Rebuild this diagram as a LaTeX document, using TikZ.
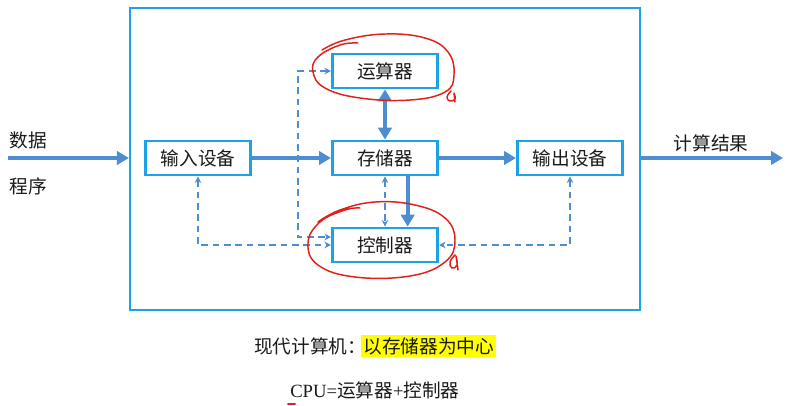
\documentclass[tikz,border=0pt]{standalone}
\usepackage{fontspec}
\setmainfont{Liberation Serif}
\newfontfamily\cjk{Noto Sans CJK SC}
\usetikzlibrary{arrows.meta,calc,positioning}
\definecolor{frameCyan}{HTML}{1BA3E6}
\definecolor{busBlue}{HTML}{4E8DD0}
\definecolor{ink}{HTML}{1A1A1A}
\definecolor{penRed}{HTML}{E0201B}
\definecolor{markYellow}{HTML}{FFFF00}
\newcommand{\FigBody}{\cjk\fontsize{14}{16.8}\selectfont}
\newcommand{\FigLatin}{\fontsize{14}{16.8}\selectfont}
\tikzset{
  unit box/.style={
    draw=frameCyan, line width=2pt, fill=white, text=ink,
    minimum width=79pt, minimum height=25.5pt, inner sep=2pt, font=\FigBody
  },
  bus arrow/.style={
    -{Triangle[length=9pt,width=10pt]},
    line width=3pt, busBlue
  },
  bus both/.style={
    {Triangle[length=9pt,width=10pt]}-{Triangle[length=9pt,width=10pt]},
    line width=3pt, busBlue
  },
  sig arrow/.style={
    {Stealth[length=5pt,width=5pt]}-{Stealth[length=5pt,width=5pt]},
    line width=1.3pt, busBlue, dash pattern=on 5pt off 3.5pt
  },
  pen/.style={penRed, line width=1.1pt, line cap=round, line join=round},
}

\begin{document}
\begin{tikzpicture}[x=0.75pt,y=-0.75pt]
  \useasboundingbox (0,0) rectangle (790,405);

  % Outer frame of the machine
  \node[draw=frameCyan, line width=1.6pt, minimum width=382.5pt, minimum height=226.5pt,
        inner sep=0pt] (frame) at (385,159) {};

  % Units
  \def\Y{158}
  \node[unit box] (mem)  at (385,\Y) {存储器};
  \node[unit box] (alu)  at (385,71)  {运算器};
  \node[unit box] (ctrl) at (385,245) {控制器};
  \node[unit box] (inp)  at (198,\Y) {输入设备};
  \node[unit box] (outp) at (570,\Y) {输出设备};

  % Data path
  \draw[bus arrow] (inp) -- (mem);
  \draw[bus arrow] (mem) -- (outp);
  \draw[bus both] (alu) -- (mem);
  \draw[bus arrow] ([xshift=17pt]mem.south) -- ([xshift=17pt]ctrl.north);

  % In / out of the frame
  \coordinate (src) at (8,\Y);
  \coordinate (res) at (783,\Y);
  \draw[bus arrow] (src) -- (frame.west |- src);
  \draw[bus arrow] (frame.east |- res) -- (res);
  \node[font=\FigBody,text=ink] (dat)  at (28,140) {数据};
  \node[font=\FigBody,text=ink] (prog) at (28,186) {程序};
  \node[font=\FigBody,text=ink] (out)  at (711,143) {计算结果};

  % Control signals
  \coordinate (bus) at (298,150);
  \draw[sig arrow] (alu.west) -| (bus) |- ([yshift=6pt]ctrl.west);
  \draw[sig arrow] (inp.south) |- (ctrl.west);
  \draw[sig arrow] (outp.south) |- (ctrl.east);
  \draw[sig arrow] (mem.south) -- (ctrl.north);

  % Captions
  \node[font=\FigBody, text=ink, anchor=west, inner sep=0pt] (era) at (254,346) {现代计算机：};
  \node[font=\FigBody, text=ink, fill=markYellow, inner sep=1.5pt, right=-4pt of era] (hub) {以存储器为中心};
  \node[anchor=west, inner sep=0pt, text=ink] (cpu) at (290,390)
    {\FigLatin CPU={\cjk 运算器}+{\cjk 控制器}};

  % Hand-drawn marks
  \draw[pen] plot[smooth, tension=0.7] coordinates {(358,43) (340,45) (318,57) (313,72)
    (325,88) (360,98) (410,100) (445,92) (454,75) (448,52) (425,38) (385,34) (345,40) (322,50)};
  \draw[pen] plot[smooth, tension=0.8] coordinates {(451,91) (447,97) (450,101) (455,99) (454,93) (455,102)};
  \draw[pen] plot[smooth, tension=0.7] coordinates {(360,208) (345,210) (320,222) (308,243)
    (318,265) (355,277) (410,276) (445,262) (455,240) (445,218) (415,205) (375,202) (340,210) (318,222)};
  \draw[pen] plot[smooth, tension=0.8] coordinates {(455,255) (450,262) (452,268) (457,265) (456,256) (458,270)};
  \draw[pen, line width=1.5pt] (288,404) -- (295,404);
\end{tikzpicture}
\end{document}
